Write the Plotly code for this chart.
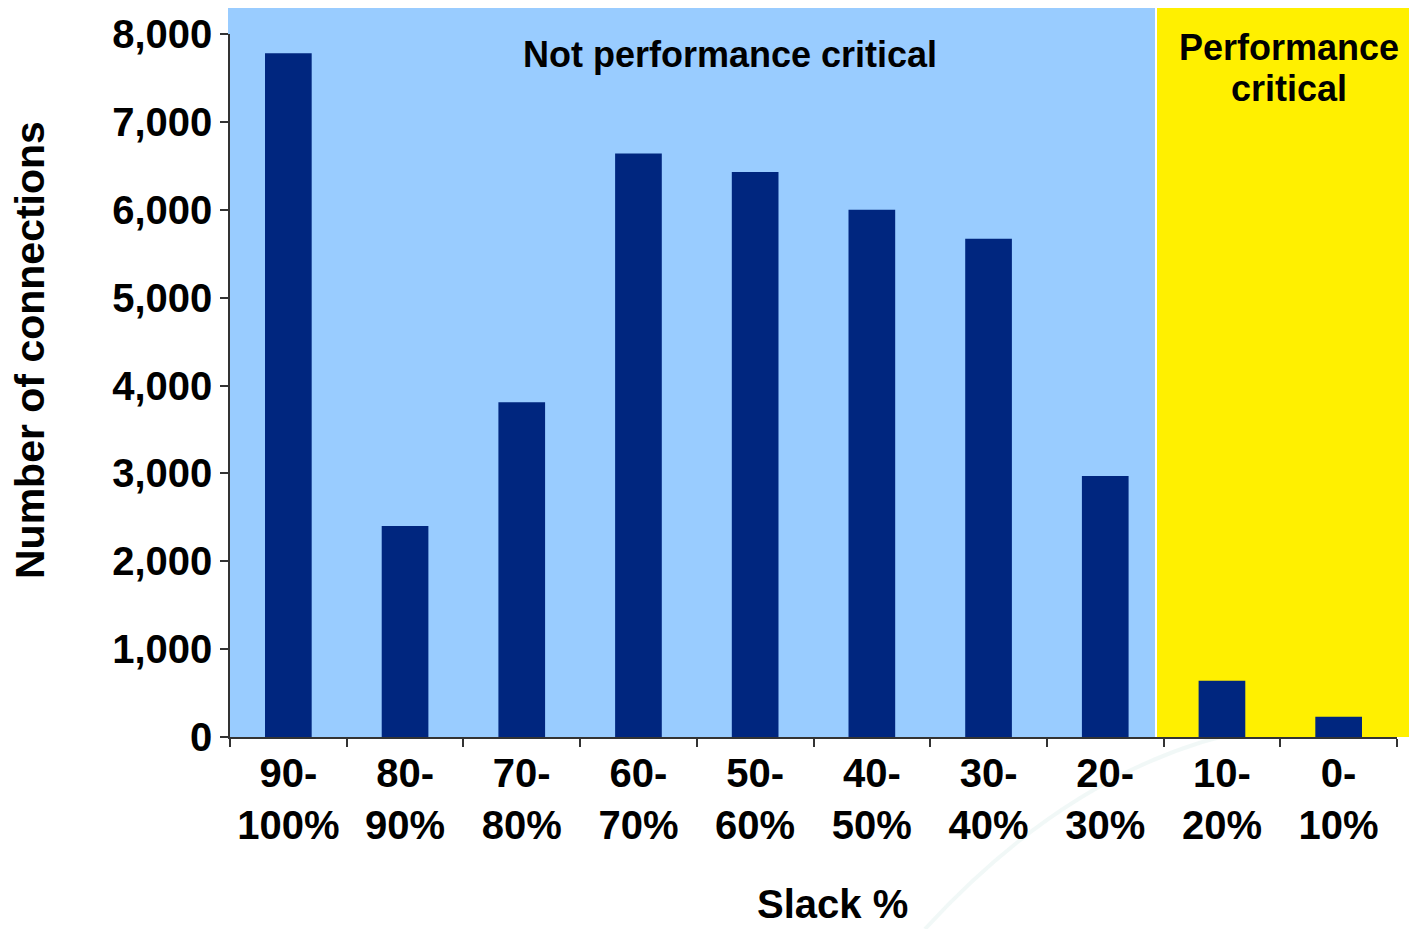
import plotly.graph_objects as go

# Slack buckets and connection counts
slack_buckets = ["90-<br>100%", "80-<br>90%", "70-<br>80%", "60-<br>70%", "50-<br>60%",
                 "40-<br>50%", "30-<br>40%", "20-<br>30%", "10-<br>20%", "0-<br>10%"]
connections = [7780, 2400, 3810, 6640, 6430, 6000, 5670, 2970, 640, 230]
y_ticks = [0, 1000, 2000, 3000, 4000, 5000, 6000, 7000, 8000]

FONT = "Liberation Sans, Arial, sans-serif"
W, H = 1409, 929
L, R, T, B = 230, 12, 34, 192
PW, PH = W - L - R, H - T - B


def px(xp):
    return (xp - L) / PW


def py(yp):
    return (H - B - yp) / PH


fig = go.Figure()
fig.add_trace(go.Bar(
    x=slack_buckets,
    y=connections,
    width=0.4,
    marker=dict(color="#00267F", line=dict(width=0)),
    hoverinfo="x+y",
))

shapes = [
    # faint background swoosh
    dict(type="path", xref="paper", yref="paper", layer="below",
         path=f"M {px(925)},{py(929)} Q {px(1080)},{py(760)} {px(1260)},{py(728)}",
         line=dict(color="rgba(215,235,232,0.35)", width=4)),
    # non-critical region
    dict(type="rect", xref="paper", yref="paper", layer="below",
         x0=px(228), x1=px(1155), y0=0, y1=py(8),
         fillcolor="#99CCFF", line=dict(width=0)),
    # critical region
    dict(type="rect", xref="paper", yref="paper", layer="below",
         x0=px(1157), x1=px(1409), y0=0, y1=py(8),
         fillcolor="#FFF000", line=dict(width=0)),
]

annotations = [
    dict(text="<b>Not performance critical</b>", xref="paper", yref="paper",
         x=px(730), y=py(55), xanchor="center", yanchor="middle", showarrow=False,
         font=dict(family=FONT, size=36, color="black")),
    dict(text="<b>Performance</b>", xref="paper", yref="paper",
         x=px(1289), y=py(48), xanchor="center", yanchor="middle", showarrow=False,
         font=dict(family=FONT, size=36, color="black")),
    dict(text="<b>critical</b>", xref="paper", yref="paper",
         x=px(1289), y=py(88), xanchor="center", yanchor="middle", showarrow=False,
         font=dict(family=FONT, size=36, color="black")),
    dict(text="<b>Number of connections</b>", xref="paper", yref="paper",
         x=px(30), y=py(350), xanchor="center", yanchor="middle", showarrow=False,
         textangle=-90, font=dict(family=FONT, size=41, color="black")),
    dict(text="<b>Slack %</b>", xref="paper", yref="paper",
         x=px(832), y=py(904), xanchor="center", yanchor="middle", showarrow=False,
         font=dict(family=FONT, size=40, color="black")),
]

fig.update_layout(
    width=W, height=H,
    margin=dict(l=L, r=R, t=T, b=B, pad=0),
    paper_bgcolor="white",
    plot_bgcolor="rgba(0,0,0,0)",
    showlegend=False,
    bargap=0.6,
    shapes=shapes,
    annotations=annotations,
    font=dict(family=FONT, color="black"),
)

fig.update_xaxes(
    type="category",
    showgrid=False,
    showline=True, linecolor="#333333", linewidth=1.5,
    ticks="outside", tickson="boundaries", ticklen=8, tickcolor="#333333", tickwidth=1.5,
    tickfont=dict(family=FONT, size=40, color="black", weight="bold"),
    tickangle=0,
    zeroline=False,
)

fig.update_yaxes(
    range=[0, 8000],
    tickvals=y_ticks,
    tickformat=",d",
    showgrid=False,
    showline=True, linecolor="#333333", linewidth=1.5,
    ticks="outside", ticklen=8, tickcolor="#333333", tickwidth=1.5,
    tickfont=dict(family=FONT, size=40, color="black", weight="bold"),
    zeroline=False,
)

fig.write_html("out.html")
